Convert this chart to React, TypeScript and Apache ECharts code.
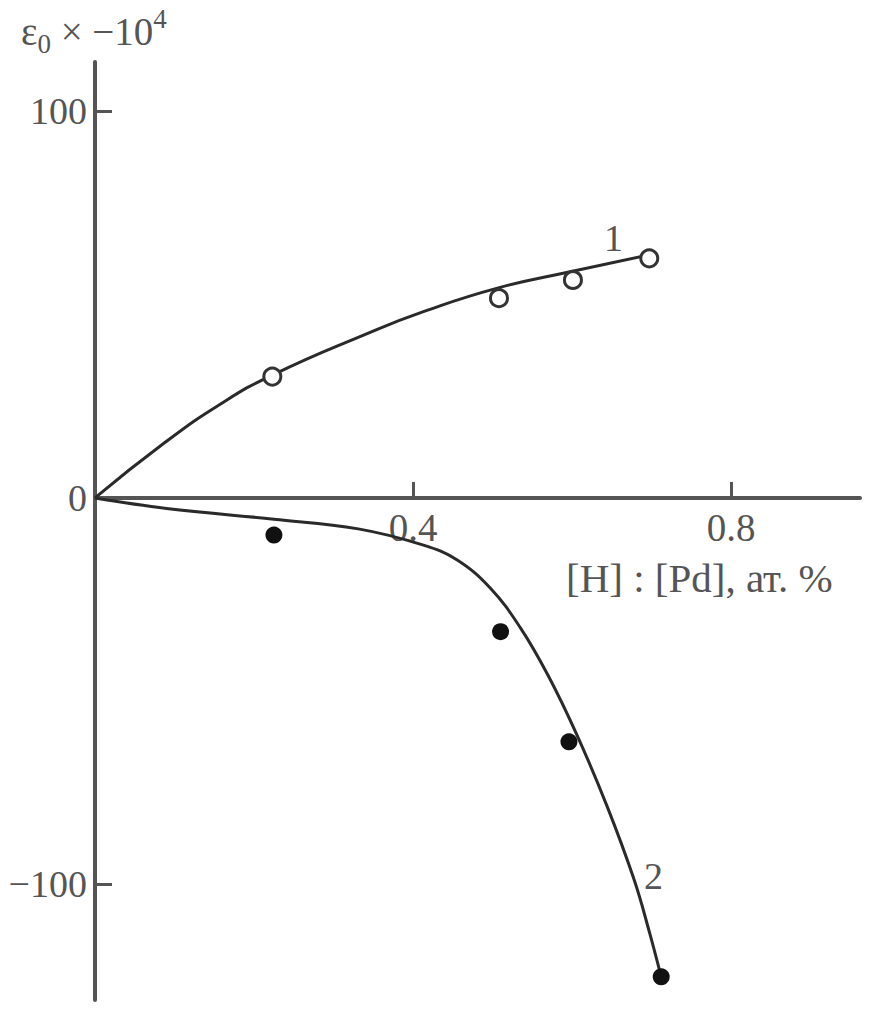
import React, { useEffect, useRef } from "react";
import * as echarts from "echarts";

// Curve 1 (open circles) – fitted line and measured points
const curve1X = [0, 0.087, 0.157, 0.223, 0.343, 0.413, 0.506, 0.599, 0.697];
const curve1Y = [0, 14.2, 24.2, 31.8, 42.6, 48.2, 54.3, 58.6, 62.9];
const points1X = [0.223, 0.508, 0.601, 0.697];
const points1Y = [31.4, 51.7, 56.4, 62.0];

// Curve 2 (filled circles)
const curve2X = [0, 0.09, 0.225, 0.331, 0.413, 0.455, 0.497, 0.535, 0.57, 0.606, 0.644, 0.678, 0.697, 0.712];
const curve2Y = [0, -2.7, -5.5, -8.0, -12.2, -16.0, -23.3, -33.6, -46.0, -61.3, -79.8, -98.8, -112.2, -123.9];
const points2X = [0.225, 0.51, 0.596, 0.712];
const points2Y = [-9.6, -34.6, -63.1, -123.9];

const xTicks = [0.4, 0.8];
const yTicks = [-100, 0, 100];
const xName = "[H] : [Pd], ат. %";
const curveLabels = ["1", "2"];

const zip = (xs: number[], ys: number[]) => xs.map((x, i) => [x, ys[i]]);

const FONT = "'Liberation Serif', 'DejaVu Serif', serif";
const AXIS = "#555555";
const INK = "#2a2a2a";

const Y_MIN = -129.9;
const Y_MAX = 112.8;
const GRID_TOP = 62;
const GRID_BOTTOM = 13;
const CHART_H = 1013;

export default function App() {
  const ref = useRef<HTMLDivElement>(null);
  useEffect(() => {
    if (!ref.current) return;
    const chart = echarts.init(ref.current, null, { renderer: "svg" });
    const plotH = CHART_H - GRID_TOP - GRID_BOTTOM;
    // move the x axis (line, ticks, labels) up to the y = 0 level
    const zeroOffset = -(plotH * (0 - Y_MIN)) / (Y_MAX - Y_MIN);
    const rich = (size: number, extra: any = {}) => ({
      fontFamily: FONT,
      fontSize: size,
      fontWeight: "normal",
      color: AXIS,
      ...extra,
    });
    chart.setOption({
      animation: false,
      backgroundColor: "#ffffff",
      title: {
        left: 16,
        top: 0,
        text: "{a|ε}{sub|0}{a| × −10}{sup|4}",
        textStyle: {
          fontWeight: "normal",
          rich: {
            a: rich(39, { lineHeight: 52, verticalAlign: "middle" }),
            sub: rich(27, { verticalAlign: "bottom", lineHeight: 24 }),
            sup: rich(27, { verticalAlign: "top", lineHeight: 26 }),
          },
        },
      },
      grid: { left: 95, right: 13, top: GRID_TOP, bottom: GRID_BOTTOM, outerBoundsMode: "none" },
      xAxis: {
        type: "value",
        min: 0,
        max: 0.962,
        position: "bottom",
        offset: zeroOffset,
        splitLine: { show: false },
        axisLine: { onZero: false, lineStyle: { color: AXIS, width: 4 } },
        axisTick: { inside: true, length: 16, customValues: xTicks, lineStyle: { color: AXIS, width: 3 } },
        axisLabel: {
          customValues: xTicks,
          margin: 10,
          fontFamily: FONT,
          fontSize: 39,
          color: AXIS,
          formatter: (v: number) => String(v),
        },
      },
      yAxis: {
        type: "value",
        min: Y_MIN,
        max: Y_MAX,
        splitLine: { show: false },
        axisLine: { lineStyle: { color: AXIS, width: 4 } },
        axisTick: { inside: true, length: 17, customValues: [-100, 100], lineStyle: { color: AXIS, width: 3 } },
        axisLabel: {
          customValues: yTicks,
          margin: 8,
          fontFamily: FONT,
          fontSize: 38,
          color: AXIS,
          formatter: (v: number) => (v < 0 ? "−" + String(-v) : String(v)),
        },
      },
      series: [
        {
          type: "line",
          data: zip(curve1X, curve1Y),
          smooth: 0.5,
          showSymbol: false,
          lineStyle: { color: INK, width: 3 },
          z: 2,
        },
        {
          type: "line",
          data: zip(curve2X, curve2Y),
          smooth: 0.4,
          showSymbol: false,
          lineStyle: { color: INK, width: 3 },
          z: 2,
        },
        {
          type: "scatter",
          data: zip(points1X, points1Y),
          symbol: "circle",
          symbolSize: 17,
          itemStyle: { color: "#ffffff", borderColor: "#333333", borderWidth: 3, opacity: 1 },
          z: 3,
        },
        {
          type: "scatter",
          data: zip(points2X, points2Y),
          symbol: "circle",
          symbolSize: 17,
          itemStyle: { color: "#111111", opacity: 1 },
          z: 3,
        },
      ],
      graphic: [
        {
          type: "text",
          x: 566,
          y: 578,
          style: { text: xName, font: `41px ${FONT}`, fill: AXIS, verticalAlign: "middle" },
        },
        {
          type: "text",
          x: 604,
          y: 238,
          style: { text: curveLabels[0], font: `38px ${FONT}`, fill: AXIS, verticalAlign: "middle" },
        },
        {
          type: "text",
          x: 644,
          y: 876,
          style: { text: curveLabels[1], font: `38px ${FONT}`, fill: AXIS, verticalAlign: "middle" },
        },
      ],
    });
    return () => chart.dispose();
  }, []);
  return (
    <div
      ref={ref}
      style={{ position: "absolute", left: 0, top: 0, width: 873, height: 1013 }}
    />
  );
}
